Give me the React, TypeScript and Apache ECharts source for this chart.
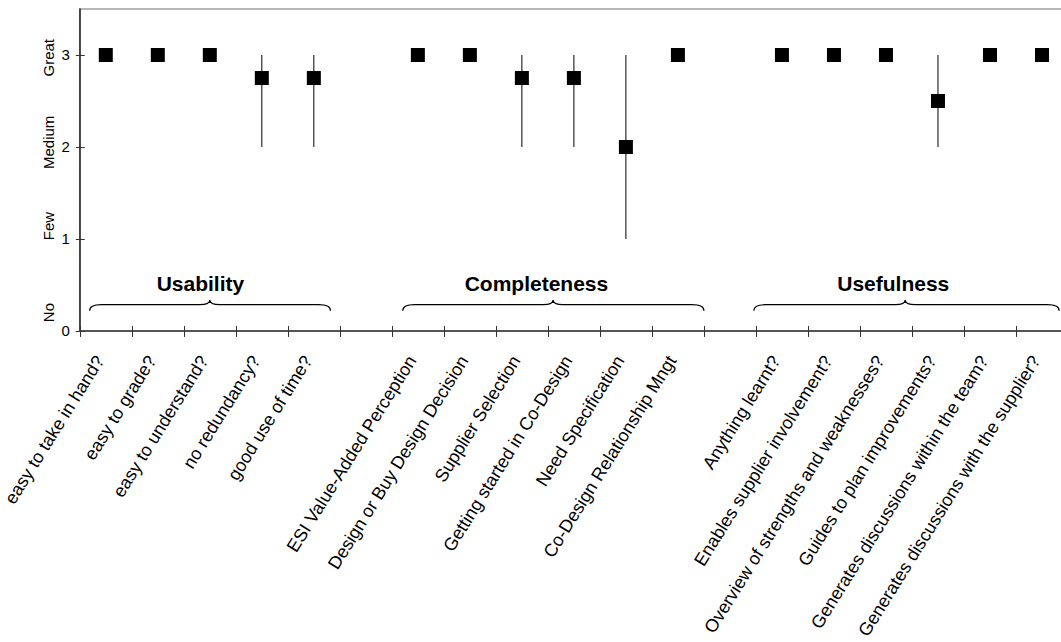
import React, { useEffect, useRef } from "react";
import * as echarts from "echarts";

const categories = [
  "easy to take in hand?",
  "easy to grade?",
  "easy to understand?",
  "no redundancy?",
  "good use of time?",
  "",
  "ESI Value-Added Perception",
  "Design or Buy Design Decision",
  "Supplier Selection",
  "Getting started in Co-Design",
  "Need Specification",
  "Co-Design Relationship Mngt",
  "",
  "Anything learnt?",
  "Enables supplier involvement?",
  "Overview of strengths and weaknesses?",
  "Guides to plan improvements?",
  "Generates discussions within the team?",
  "Generates discussions with the supplier?",
];
const scores = [3, 3, 3, 2.75, 2.75, null, 3, 3, 2.75, 2.75, 2, 3, null, 3, 3, 3, 2.5, 3, 3];
const lows = [3, 3, 3, 2, 2, null, 3, 3, 2, 2, 1, 3, null, 3, 3, 3, 2, 3, 3];
const highs = [3, 3, 3, 3, 3, null, 3, 3, 3, 3, 3, 3, null, 3, 3, 3, 3, 3, 3];

const yTicks = [0, 1, 2, 3];
const yWords = ["No", "Few", "Medium", "Great"];
const yWordPos = [0.2, 1.14, 2.05, 2.97];

const groupNames = ["Usability", "Completeness", "Usefulness"];
const groupStart = [-0.31, 5.71, 12.46];
const groupEnd = [4.32, 11.5, 18.33];
const groupTip = [2.0, 8.6, 15.37];
const groupLabelAt = [1.82, 8.28, 15.14];

const FONT = '"Liberation Sans", Arial, Helvetica, sans-serif';

export default function App() {
  const ref = useRef<HTMLDivElement>(null);

  useEffect(() => {
    if (!ref.current) return;
    const chart = echarts.init(ref.current, null, { renderer: "svg" });

    const errData = categories
      .map((_, i) => [i, lows[i], highs[i]])
      .filter((d) => d[1] != null && d[2] != null && (d[2] as number) > (d[1] as number));

    const braceData = groupNames.map((_, i) => [groupStart[i], groupEnd[i], groupTip[i], groupLabelAt[i]]);

    const option: any = {
      animation: false,
      backgroundColor: "#fff",
      grid: {
        left: 78,
        top: 9,
        width: 990,
        height: 323,
        show: true,
        borderColor: "#a0a0a0",
        borderWidth: 1.5,
        backgroundColor: "transparent",
      },
      xAxis: [
        {
          type: "category",
          data: categories,
          position: "bottom",
          boundaryGap: true,
          axisLine: { show: true, onZero: false, lineStyle: { color: "#555", width: 2 } },
          axisTick: { show: true, length: 6, interval: 0, lineStyle: { color: "#333", width: 1 } },
          axisLabel: {
            interval: 0,
            rotate: 58,
            margin: 30,
            align: "right",
            verticalAlign: "bottom",
            lineHeight: 14,
            fontSize: 18,
            fontFamily: FONT,
            color: "#000",
          },
          splitLine: { show: false },
        },
        {
          type: "category",
          data: categories,
          position: "bottom",
          boundaryGap: true,
          axisLine: { show: false, onZero: false },
          axisTick: { show: true, inside: true, length: 5, interval: 0, lineStyle: { color: "#333", width: 1 } },
          axisLabel: { show: false },
          splitLine: { show: false },
        },
        {
          type: "value",
          min: -0.5,
          max: 18.5,
          position: "bottom",
          show: false,
          axisLine: { onZero: false },
        },
      ],
      yAxis: [
        {
          type: "value",
          min: 0,
          max: 3.5,
          position: "left",
          axisLine: { show: true, onZero: false, lineStyle: { color: "#222", width: 1.5 } },
          axisTick: { show: true, length: 4, customValues: yTicks, lineStyle: { color: "#333", width: 1 } },
          axisLabel: {
            customValues: yTicks,
            margin: 10,
            fontSize: 15,
            fontFamily: FONT,
            color: "#000",
          },
          splitLine: { show: false },
        },
        {
          type: "value",
          min: 0,
          max: 3.5,
          position: "left",
          axisLine: { show: false, onZero: false },
          axisTick: { show: false },
          axisLabel: {
            customValues: yWordPos,
            rotate: 90,
            margin: 24,
            fontSize: 15,
            fontFamily: FONT,
            color: "#000",
            formatter: (v: number) => {
              const k = yWordPos.findIndex((p) => Math.abs(p - v) < 1e-6);
              return k >= 0 ? yWords[k] : "";
            },
          },
          splitLine: { show: false },
        },
        {
          type: "value",
          min: 0,
          max: 3.5,
          position: "left",
          axisLine: { show: false, onZero: false },
          axisTick: { show: true, inside: true, length: 5, customValues: yTicks, lineStyle: { color: "#333", width: 1 } },
          axisLabel: { show: false },
          splitLine: { show: false },
        },
      ],
      series: [
        {
          type: "custom",
          name: "range",
          xAxisIndex: 0,
          yAxisIndex: 0,
          data: errData,
          encode: { x: 0, y: [1, 2] },
          z: 2,
          renderItem: (params: any, api: any) => {
            const p1 = api.coord([api.value(0), api.value(1)]);
            const p2 = api.coord([api.value(0), api.value(2)]);
            return {
              type: "line",
              shape: { x1: p1[0], y1: p1[1], x2: p2[0], y2: p2[1] },
              style: { stroke: "#000", lineWidth: 1 },
            };
          },
        },
        {
          type: "scatter",
          name: "score",
          xAxisIndex: 0,
          yAxisIndex: 0,
          data: scores.map((v) => (v == null ? "-" : v)),
          symbol: "rect",
          symbolSize: 14,
          itemStyle: { color: "#000", opacity: 1 },
          z: 3,
        },
        {
          type: "custom",
          name: "groups",
          xAxisIndex: 2,
          yAxisIndex: 0,
          data: braceData,
          encode: { x: [0, 1, 2, 3] },
          z: 4,
          renderItem: (params: any, api: any) => {
            const x0 = api.coord([api.value(0), 0.22]);
            const x1 = api.coord([api.value(1), 0.22]);
            const tip = api.coord([api.value(2), 0.336]);
            const flat = api.coord([api.value(2), 0.285]);
            const lab = api.coord([api.value(3), 0.52]);
            const yE = x0[1];
            const yF = flat[1];
            const yT = tip[1];
            const xL = x0[0];
            const xR = x1[0];
            const xT = tip[0];
            const r = 12;
            const r2 = 10;
            const d =
              `M ${xL} ${yE} Q ${xL} ${yF} ${xL + r} ${yF} L ${xT - r2} ${yF} ` +
              `Q ${xT} ${yF} ${xT} ${yT} Q ${xT} ${yF} ${xT + r2} ${yF} ` +
              `L ${xR - r} ${yF} Q ${xR} ${yF} ${xR} ${yE}`;
            return {
              type: "group",
              children: [
                {
                  type: "path",
                  shape: { pathData: d },
                  style: { stroke: "#000", lineWidth: 1.2, fill: null },
                },
                {
                  type: "text",
                  style: {
                    text: groupNames[params.dataIndex],
                    x: lab[0],
                    y: lab[1],
                    fill: "#000",
                    font: `bold 21px ${FONT}`,
                    align: "center",
                    verticalAlign: "middle",
                    textAlign: "center",
                    textVerticalAlign: "middle",
                  },
                },
              ],
            };
          },
        },
      ],
    };

    chart.setOption(option);
    return () => chart.dispose();
  }, []);

  return (
    <div
      style={{
        position: "absolute",
        left: 0,
        top: 0,
        width: 1061,
        height: 642,
        overflow: "hidden",
        background: "#fff",
      }}
    >
      <div ref={ref} style={{ width: 1075, height: 642 }} />
    </div>
  );
}
